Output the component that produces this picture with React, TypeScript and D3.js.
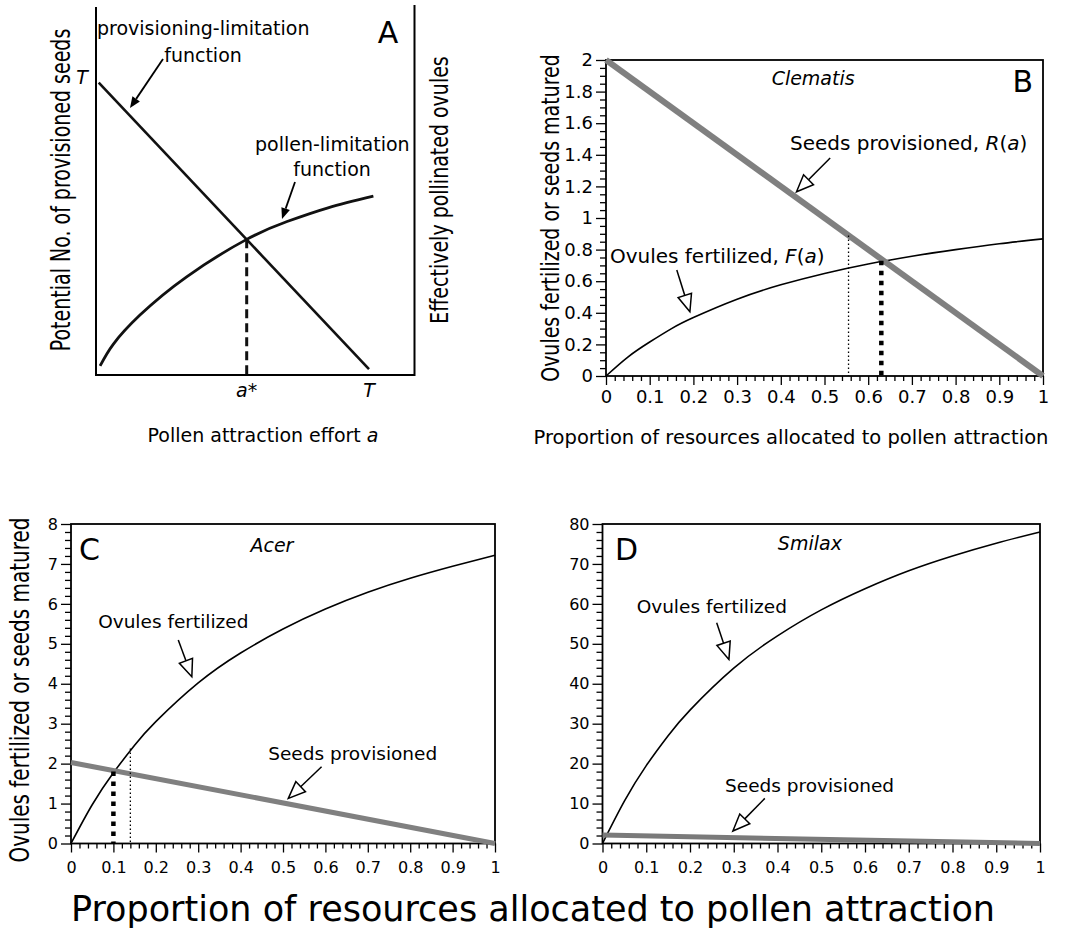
import React, { useEffect, useRef } from 'react';
import * as d3 from 'd3';

// Panel A: conceptual model (arbitrary units, T = 1)
const effortProvision = [0.01, 1.0];
const provisionedSeeds = [1.0, 0.02];
const effortPollen = [0.015, 0.063, 0.161, 0.332, 0.552, 0.7, 0.85, 1.016];
const pollinatedOvules = [0.031, 0.105, 0.205, 0.336, 0.464, 0.525, 0.572, 0.612];
const aStar = 0.552;

// Panels B-D: proportion of resources allocated to pollen attraction
const allocation = [0, 0.05, 0.1, 0.15, 0.2, 0.3, 0.4, 0.5, 0.6, 0.7, 0.8, 0.9, 1];
const clematisOvules = [0, 0.12, 0.215, 0.3, 0.37, 0.486, 0.577, 0.649, 0.709, 0.758, 0.8, 0.837, 0.868];
const acerOvules = [0, 0.97, 1.77, 2.46, 3.05, 4.02, 4.77, 5.37, 5.87, 6.29, 6.64, 6.94, 7.22];
const smilaxOvules = [0, 10.6, 19.5, 27.0, 33.4, 43.9, 52.0, 58.5, 63.8, 68.3, 72, 75.2, 78];

const seedsAllocation = [0, 1];
const clematisSeeds = [2, 0];
const acerSeeds = [2.03, 0];
const smilaxSeeds = [2.1, 0];

// vertical markers: [allocation, top value]
const clematisOptimum = [0.63, 0.73];
const clematisAlt = [0.555, 0.89];
const acerOptimum = [0.1, 1.8];
const acerAlt = [0.14, 2.38];

const propTicks = [0, 0.1, 0.2, 0.3, 0.4, 0.5, 0.6, 0.7, 0.8, 0.9, 1];
const clematisTicks = [0, 0.2, 0.4, 0.6, 0.8, 1, 1.2, 1.4, 1.6, 1.8, 2];
const acerTicks = [0, 1, 2, 3, 4, 5, 6, 7, 8];
const smilaxTicks = [0, 10, 20, 30, 40, 50, 60, 70, 80];

const FONT = '"DejaVu Sans", "Liberation Sans", Arial, sans-serif';
const GRAY = '#808080';

type Sel = d3.Selection<any, unknown, null, undefined>;
type Part = [string, boolean?];

const addText = (g: Sel, x: number, y: number, parts: Part[], size: number, anchor = 'start') => {
  const t = g.append('text')
    .attr('x', x)
    .attr('y', y)
    .attr('font-family', FONT)
    .attr('font-size', size)
    .attr('text-anchor', anchor)
    .attr('fill', '#000');
  parts.forEach(([s, it]) => {
    t.append('tspan').attr('font-style', it ? 'italic' : 'normal').text(s);
  });
  return t;
};

// rotated axis title; glyphs drawn a bit heavier across, like the scan
const vText = (g: Sel, x: number, y: number, s: string, size: number, thick: number) =>
  g.append('text')
    .attr('transform', `translate(${x},${y}) rotate(-90) scale(1,${thick})`)
    .attr('font-family', FONT)
    .attr('font-size', size)
    .attr('text-anchor', 'middle')
    .attr('fill', '#000')
    .text(s);

// line with a hollow triangular head (panels B-D)
const hollowArrow = (g: Sel, x1: number, y1: number, x2: number, y2: number) => {
  const ang = Math.atan2(y2 - y1, x2 - x1);
  const len = 17, half = 7;
  const bx = x2 - len * Math.cos(ang), by = y2 - len * Math.sin(ang);
  const px = -Math.sin(ang) * half, py = Math.cos(ang) * half;
  g.append('line')
    .attr('x1', x1).attr('y1', y1).attr('x2', bx).attr('y2', by)
    .attr('stroke', '#000').attr('stroke-width', 1.5);
  g.append('path')
    .attr('d', `M${x2},${y2}L${bx + px},${by + py}L${bx - px},${by - py}Z`)
    .attr('fill', '#fff').attr('stroke', '#000').attr('stroke-width', 1.5);
};

// line with a small solid head (panel A)
const solidArrow = (g: Sel, x1: number, y1: number, x2: number, y2: number) => {
  const ang = Math.atan2(y2 - y1, x2 - x1);
  const len = 11, half = 4.5;
  const bx = x2 - len * Math.cos(ang), by = y2 - len * Math.sin(ang);
  const px = -Math.sin(ang) * half, py = Math.cos(ang) * half;
  g.append('line')
    .attr('x1', x1).attr('y1', y1).attr('x2', bx).attr('y2', by)
    .attr('stroke', '#000').attr('stroke-width', 1.8);
  g.append('path')
    .attr('d', `M${x2},${y2}L${bx + px},${by + py}L${bx - px},${by - py}Z`)
    .attr('fill', '#000');
};

const drawConcept = (svg: Sel) => {
  const g = svg.append('g');
  const x = d3.scaleLinear().domain([0, 1]).range([96, 369]);
  const y = d3.scaleLinear().domain([0, 1]).range([375, 82.7]);
  const left = x(0), right = 414.5, bottom = y(0);

  // frame (left, bottom, right)
  g.append('path')
    .attr('d', `M${left},7V${bottom}H${right}V5`)
    .attr('fill', 'none').attr('stroke', '#000').attr('stroke-width', 2);

  const line = d3.line<number>().curve(d3.curveNatural);
  g.append('path')
    .attr('d', line.x((_, i) => x(effortProvision[i])).y(d => y(d))(provisionedSeeds))
    .attr('fill', 'none').attr('stroke', '#111').attr('stroke-width', 2.6);
  g.append('path')
    .attr('d', line.x((_, i) => x(effortPollen[i])).y(d => y(d))(pollinatedOvules))
    .attr('fill', 'none').attr('stroke', '#111').attr('stroke-width', 2.8);

  g.append('line')
    .attr('x1', x(aStar)).attr('x2', x(aStar))
    .attr('y1', y(0.464)).attr('y2', bottom)
    .attr('stroke', '#111').attr('stroke-width', 3).attr('stroke-dasharray', '9,5');

  addText(g, x(0) - 14, y(1) + 1, [['T', true]], 19, 'middle');
  addText(g, x(aStar), 397, [['a', true], ['*']], 19, 'middle');
  addText(g, x(1), 397, [['T', true]], 19, 'middle');
  addText(g, 388, 43, [['A']], 30, 'middle');

  addText(g, 97, 35, [['provisioning-limitation']], 19);
  addText(g, 203, 62, [['function']], 19, 'middle');
  solidArrow(g, 163, 59, 130, 108);
  addText(g, 255, 151, [['pollen-limitation']], 19);
  addText(g, 332, 176, [['function']], 19, 'middle');
  solidArrow(g, 295, 182, 282, 219);

  vText(g, 70, 190, 'Potential No. of provisioned seeds', 19, 1.4);
  vText(g, 448, 190, 'Effectively pollinated ovules', 19, 1.3);
  addText(g, 263, 442, [['Pollen attraction effort '], ['a', true]], 19, 'middle');
};

interface PanelCfg {
  left: number; right: number; top: number; bottom: number;
  yMax: number; yTicks: number[]; yMinor: number;
  tickFont: number; xPad: number;
  ovules: number[]; seeds: number[]; grayWidth: number; gray: string;
  species: string; speciesPos: number[];
  letter: string; letterX: number; letterY: number; letterAnchor: string;
  ovNote: Part[]; ovNotePos: number[]; ovArrow: number[];
  sdNote: Part[]; sdNotePos: number[]; sdArrow: number[];
  noteFont: number;
  optimum?: number[]; alt?: number[];
}

const drawPanel = (svg: Sel, p: PanelCfg) => {
  const g = svg.append('g');
  const x = d3.scaleLinear().domain([0, 1]).range([p.left, p.right]);
  const y = d3.scaleLinear().domain([0, p.yMax]).range([p.bottom, p.top]);

  const xMinor = d3.range(0, 51).map(i => i * 0.02).filter(v => Math.abs(v * 10 - Math.round(v * 10)) > 1e-6);
  const nY = Math.round(p.yMax / p.yMinor);
  const yMinor = d3.range(0, nY + 1).map(i => i * p.yMinor)
    .filter(v => !p.yTicks.some(t => Math.abs(t - v) < 1e-6));

  const styleAxis = (a: Sel) => {
    a.select('.domain').remove();
    a.selectAll('line').attr('stroke', '#000').attr('stroke-width', 1.3);
    a.selectAll('text').attr('font-family', FONT).attr('font-size', p.tickFont).attr('fill', '#000');
  };

  g.append('g').attr('transform', `translate(0,${p.bottom})`)
    .call(d3.axisBottom(x).tickValues(xMinor).tickSize(5).tickFormat(() => ''))
    .call(styleAxis);
  g.append('g').attr('transform', `translate(0,${p.bottom})`)
    .call(d3.axisBottom(x).tickValues(propTicks).tickSize(9).tickPadding(p.xPad).tickFormat(d => String(d)))
    .call(styleAxis);
  g.append('g').attr('transform', `translate(${p.left},0)`)
    .call(d3.axisLeft(y).tickValues(yMinor).tickSize(6).tickFormat(() => ''))
    .call(styleAxis);
  g.append('g').attr('transform', `translate(${p.left},0)`)
    .call(d3.axisLeft(y).tickValues(p.yTicks).tickSize(10).tickPadding(3).tickFormat(d => String(d)))
    .call(styleAxis);

  g.append('rect')
    .attr('x', p.left).attr('y', p.top)
    .attr('width', p.right - p.left).attr('height', p.bottom - p.top)
    .attr('fill', 'none').attr('stroke', '#000').attr('stroke-width', 1.8);

  const ovLine = d3.line<number>()
    .x((_, i) => x(allocation[i]))
    .y(d => y(d))
    .curve(d3.curveNatural);
  g.append('path')
    .attr('d', ovLine(p.ovules))
    .attr('fill', 'none').attr('stroke', '#000').attr('stroke-width', 1.6);

  const sdLine = d3.line<number>()
    .x((_, i) => x(seedsAllocation[i]))
    .y(d => y(d));
  g.append('path')
    .attr('d', sdLine(p.seeds))
    .attr('fill', 'none').attr('stroke', p.gray).attr('stroke-width', p.grayWidth);

  if (p.alt) {
    g.append('line')
      .attr('x1', x(p.alt[0])).attr('x2', x(p.alt[0]))
      .attr('y1', y(p.alt[1])).attr('y2', p.bottom)
      .attr('stroke', '#000').attr('stroke-width', 1.3).attr('stroke-dasharray', '1.5,2.5');
  }
  if (p.optimum) {
    g.append('line')
      .attr('x1', x(p.optimum[0])).attr('x2', x(p.optimum[0]))
      .attr('y1', y(p.optimum[1])).attr('y2', p.bottom)
      .attr('stroke', '#000').attr('stroke-width', 4.5).attr('stroke-dasharray', '4.5,5.5');
  }

  addText(g, x(p.speciesPos[0]), y(p.speciesPos[1]), [[p.species, true]], 19, 'middle');
  addText(g, p.letterX, p.letterY, [[p.letter]], 30, p.letterAnchor);

  addText(g, x(p.ovNotePos[0]), y(p.ovNotePos[1]), p.ovNote, p.noteFont);
  hollowArrow(g, x(p.ovArrow[0]), y(p.ovArrow[1]), x(p.ovArrow[2]), y(p.ovArrow[3]));
  addText(g, x(p.sdNotePos[0]), y(p.sdNotePos[1]), p.sdNote, p.noteFont);
  hollowArrow(g, x(p.sdArrow[0]), y(p.sdArrow[1]), x(p.sdArrow[2]), y(p.sdArrow[3]));
};

export default function App() {
  const ref = useRef<SVGSVGElement>(null);

  useEffect(() => {
    if (!ref.current) return;
    const svg = d3.select(ref.current);
    svg.selectAll('*').remove();

    drawConcept(svg);

    // B - Clematis
    drawPanel(svg, {
      left: 606, right: 1043, top: 60, bottom: 376,
      yMax: 2, yTicks: clematisTicks, yMinor: 0.05,
      tickFont: 18, xPad: 5,
      ovules: clematisOvules, seeds: clematisSeeds, grayWidth: 6, gray: GRAY,
      species: 'Clematis', speciesPos: [0.474, 1.84],
      letter: 'B', letterX: 1033, letterY: 92, letterAnchor: 'end',
      ovNote: [['Ovules fertilized, '], ['F', true], ['('], ['a', true], [')']],
      ovNotePos: [0.009, 0.715], ovArrow: [0.162, 0.671, 0.192, 0.407],
      sdNote: [['Seeds provisioned, '], ['R', true], ['('], ['a', true], [')']],
      sdNotePos: [0.421, 1.43], sdArrow: [0.513, 1.38, 0.436, 1.166],
      noteFont: 20,
      optimum: clematisOptimum, alt: clematisAlt,
    });
    svg.append('text')
      .attr('x', 791).attr('y', 444)
      .attr('font-family', FONT).attr('font-size', 19.5).attr('text-anchor', 'middle')
      .text('Proportion of resources allocated to pollen attraction');
    vText(svg, 559, 218, 'Ovules fertilized or seeds matured', 19, 1.3);

    // C - Acer
    drawPanel(svg, {
      left: 71, right: 495, top: 524, bottom: 843.5,
      yMax: 8, yTicks: acerTicks, yMinor: 0.2,
      tickFont: 16, xPad: 9,
      ovules: acerOvules, seeds: acerSeeds, grayWidth: 5, gray: GRAY,
      species: 'Acer', speciesPos: [0.474, 7.3],
      letter: 'C', letterX: 79, letterY: 560, letterAnchor: 'start',
      ovNote: [['Ovules fertilized']], ovNotePos: [0.064, 5.4], ovArrow: [0.253, 5.095, 0.285, 4.176],
      sdNote: [['Seeds provisioned']], sdNotePos: [0.465, 2.09], sdArrow: [0.591, 1.92, 0.5125, 1.13],
      noteFont: 18.5,
      optimum: acerOptimum, alt: acerAlt,
    });

    // D - Smilax
    drawPanel(svg, {
      left: 602.5, right: 1040, top: 524, bottom: 843.5,
      yMax: 80, yTicks: smilaxTicks, yMinor: 2,
      tickFont: 16, xPad: 9,
      ovules: smilaxOvules, seeds: smilaxSeeds, grayWidth: 5, gray: '#7a7a7a',
      species: 'Smilax', speciesPos: [0.474, 73.5],
      letter: 'D', letterX: 615, letterY: 560, letterAnchor: 'start',
      ovNote: [['Ovules fertilized']], ovNotePos: [0.078, 57.7], ovArrow: [0.261, 55.3, 0.289, 46.1],
      sdNote: [['Seeds provisioned']], sdNotePos: [0.28, 12.97], sdArrow: [0.371, 11.3, 0.298, 3.13],
      noteFont: 18.5,
    });

    vText(svg, 29, 690, 'Ovules fertilized or seeds matured', 20, 1.3);
    svg.append('text')
      .attr('x', 533).attr('y', 921)
      .attr('font-family', FONT).attr('font-size', 35).attr('text-anchor', 'middle')
      .text('Proportion of resources allocated to pollen attraction');
  }, []);

  return (
    <svg
      ref={ref}
      width={1067}
      height={935}
      style={{ position: 'absolute', left: 0, top: 0, background: '#fff' }}
    />
  );
}
